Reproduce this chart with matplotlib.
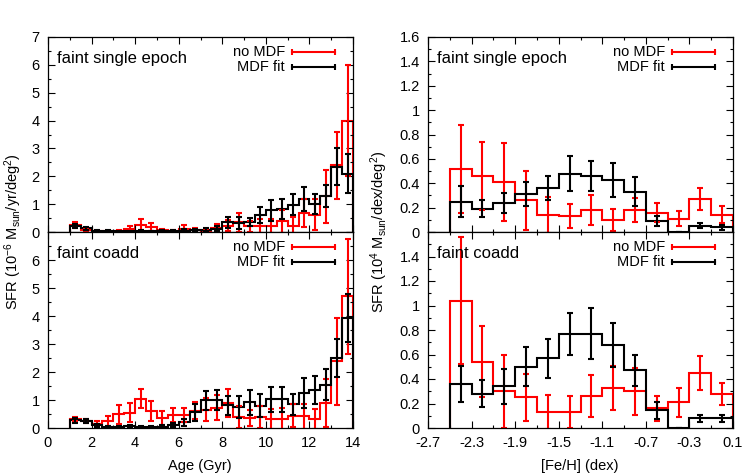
import numpy as np
import matplotlib
matplotlib.use('Agg')
import matplotlib.pyplot as plt
from matplotlib.ticker import FixedLocator, MultipleLocator

plt.rcParams['font.family'] = ['Liberation Sans', 'DejaVu Sans']
plt.rcParams['mathtext.fontset'] = 'custom'
plt.rcParams['mathtext.rm'] = 'Liberation Sans'
plt.rcParams['mathtext.it'] = 'Liberation Sans:italic'
plt.rcParams['mathtext.bf'] = 'Liberation Sans:bold'

# ---------------- data ----------------
age_edges = [1.0, 1.5, 2.0, 2.5, 3.0, 3.5, 4.0, 4.5, 5.0, 5.5, 6.0, 6.5, 7.0,
             7.5, 8.0, 8.5, 9.0, 9.5, 10.0, 10.5, 11.0, 11.5, 12.0, 12.5, 13.0,
             13.5, 14.0]
feh_edges = [-2.5, -2.3, -2.1, -1.9, -1.7, -1.5, -1.3, -1.1, -0.9, -0.7, -0.5,
             -0.3, -0.1, 0.1]

# faint single epoch, age
age_se_nomdf = [0.26, 0.08, 0.03, 0.03, 0.04, 0.10, 0.26, 0.18, 0.06, 0.04, 0.10,
                0.07, 0.04, 0.14, 0.23, 0.35, 0.20, 0.20, 0.20, 0.38, 0.20, 0.68,
                0.62, 1.28, 2.39, 4.00]
age_se_nomdf_err = [0.10, 0.05, 0.02, 0.02, 0.03, 0.10, 0.20, 0.15, 0.05, 0.04, 0.15,
                    0.08, 0.05, 0.15, 0.20, 0.35, 0.20, 0.25, 0.25, 0.40, 0.35, 0.50,
                    0.55, 0.95, 1.20, 2.00]
age_se_mdf = [0.20, 0.13, 0.04, 0.04, 0.03, 0.03, 0.04, 0.03, 0.04, 0.05, 0.05,
              0.06, 0.08, 0.12, 0.35, 0.33, 0.35, 0.62, 0.78, 0.82, 0.98, 1.18,
              1.00, 1.28, 2.35, 2.10]
age_se_mdf_err = [0.07, 0.05, 0.02, 0.02, 0.02, 0.02, 0.02, 0.02, 0.03, 0.03, 0.04,
                  0.04, 0.06, 0.10, 0.20, 0.22, 0.15, 0.28, 0.38, 0.36, 0.38, 0.42,
                  0.35, 0.40, 0.65, 0.70]

# faint coadd, age
age_co_nomdf = [0.33, 0.25, 0.15, 0.24, 0.49, 0.55, 1.05, 0.61, 0.36, 0.45, 0.45,
                0.62, 0.66, 0.72, 0.90, 0.39, 0.36, 0.39, 0.32, 0.32, 0.44, 0.42,
                0.32, 0.90, 2.38, 4.70]
age_co_nomdf_err = [0.08, 0.08, 0.10, 0.18, 0.33, 0.35, 0.34, 0.35, 0.26, 0.25, 0.25,
                    0.30, 0.40, 0.45, 0.50, 0.40, 0.30, 0.40, 0.35, 0.40, 0.40, 0.45,
                    0.35, 0.85, 1.55, 2.05]
age_co_mdf = [0.27, 0.25, 0.10, 0.04, 0.04, 0.06, 0.03, 0.03, 0.04, 0.10, 0.20,
              0.56, 0.99, 0.99, 0.81, 0.75, 0.92, 0.80, 1.02, 1.02, 0.84, 1.25,
              1.35, 1.55, 2.50, 3.93]
age_co_mdf_err = [0.08, 0.08, 0.06, 0.04, 0.04, 0.05, 0.04, 0.04, 0.05, 0.08, 0.12,
                  0.30, 0.33, 0.35, 0.33, 0.38, 0.45, 0.40, 0.45, 0.45, 0.38, 0.55,
                  0.50, 0.55, 0.69, 0.85]

# faint single epoch, [Fe/H]
feh_se_nomdf = [0.52, 0.46, 0.41, 0.26, 0.14, 0.13, 0.18, 0.10, 0.18, 0.16, 0.11,
                0.27, 0.14]
feh_se_nomdf_err = [0.36, 0.28, 0.32, 0.24, 0.15, 0.10, 0.12, 0.09, 0.10, 0.08, 0.06,
                    0.09, 0.07]
feh_se_mdf = [0.25, 0.19, 0.24, 0.31, 0.36, 0.48, 0.46, 0.43, 0.33, 0.09, 0.00,
              0.05, 0.04]
feh_se_mdf_err = [0.13, 0.07, 0.08, 0.10, 0.10, 0.14, 0.12, 0.14, 0.12, 0.04, 0.00,
                  0.02, 0.02]

# faint coadd, [Fe/H]
feh_co_nomdf = [1.04, 0.54, 0.30, 0.25, 0.13, 0.13, 0.26, 0.33, 0.30, 0.16, 0.21,
                0.45, 0.28]
feh_co_nomdf_err = [0.52, 0.29, 0.30, 0.19, 0.14, 0.13, 0.17, 0.18, 0.19, 0.10, 0.12,
                    0.14, 0.09]
feh_co_mdf = [0.36, 0.28, 0.34, 0.50, 0.57, 0.77, 0.77, 0.68, 0.47, 0.145, 0.00,
              0.08, 0.08]
feh_co_mdf_err = [0.15, 0.11, 0.14, 0.16, 0.16, 0.17, 0.21, 0.18, 0.13, 0.07, 0.00,
                  0.03, 0.03]

labels = ['no MDF', 'MDF fit']
colors = ['#ff0000', '#000000']

FS = 10.5

# ---------------- figure ----------------
W, H = 747, 476
fig = plt.figure(figsize=(W / 100, H / 100), dpi=100)

def px_axes(x0, x1, y0, y1):
    return fig.add_axes([x0 / W, 1 - y1 / H, (x1 - x0) / W, (y1 - y0) / H])

axLT = px_axes(48, 353, 37, 232)
axLB = px_axes(48, 353, 232, 428)
axRT = px_axes(428, 733, 37, 232)
axRB = px_axes(428, 733, 232, 428)


def draw(ax, edges, vals, errs, color):
    edges = np.asarray(edges)
    centers = 0.5 * (edges[:-1] + edges[1:])
    ax.stairs(vals, edges, baseline=0, color=color, lw=1.5)
    ax.errorbar(centers, vals, yerr=errs, fmt='none', ecolor=color,
                elinewidth=1.5, capsize=2.5, capthick=1.5)


def legend(ax):
    ys = [1 - 14.7 / 195, 1 - 30 / 195]
    for lab, col, y in zip(labels, colors, ys):
        ax.text(0.777, y, lab, transform=ax.transAxes, ha='right', va='center',
                fontsize=FS)
        ax.plot([0.80, 0.941], [y, y], color=col, lw=1.5,
                transform=ax.transAxes, clip_on=False)
        ax.plot([0.80, 0.941], [y, y], ls='none', marker='|', ms=5, mew=1.5,
                color=col, transform=ax.transAxes, clip_on=False)


def style(ax):
    ax.tick_params(which='both', direction='in', top=True, right=True,
                   labelsize=FS, width=0.8)
    ax.tick_params(which='major', length=5, pad=6)
    ax.tick_params(which='minor', length=2.5)
    for s in ax.spines.values():
        s.set_linewidth(0.9)


panels = [
    (axLT, age_edges, age_se_nomdf, age_se_nomdf_err, age_se_mdf, age_se_mdf_err,
     'faint single epoch'),
    (axLB, age_edges, age_co_nomdf, age_co_nomdf_err, age_co_mdf, age_co_mdf_err,
     'faint coadd'),
    (axRT, feh_edges, feh_se_nomdf, feh_se_nomdf_err, feh_se_mdf, feh_se_mdf_err,
     'faint single epoch'),
    (axRB, feh_edges, feh_co_nomdf, feh_co_nomdf_err, feh_co_mdf, feh_co_mdf_err,
     'faint coadd'),
]

for ax, edges, v1, e1, v2, e2, title in panels:
    draw(ax, edges, v1, e1, colors[0])
    draw(ax, edges, v2, e2, colors[1])
    legend(ax)
    ax.text(0.03, 1 - 21 / 195, title, transform=ax.transAxes, ha='left',
            va='center', fontsize=12)
    style(ax)

# left axes
for ax in (axLT, axLB):
    ax.set_xlim(0, 14)
    ax.set_ylim(0, 7)
    ax.xaxis.set_major_locator(MultipleLocator(2))
    ax.xaxis.set_minor_locator(MultipleLocator(1))
    ax.yaxis.set_major_locator(MultipleLocator(1))
    ax.yaxis.set_minor_locator(MultipleLocator(0.5))
axLT.set_yticks(range(0, 8))
axLT.set_yticklabels([str(i) for i in range(0, 8)])
axLB.set_yticks(range(0, 8))
axLB.set_yticklabels([str(i) for i in range(0, 7)] + [''])
axLT.tick_params(labelbottom=False)
axLB.set_xticks(range(0, 15, 2))
axLB.set_xticklabels([str(i) for i in range(0, 15, 2)])

# right axes
fe_ticks = [-2.7, -2.3, -1.9, -1.5, -1.1, -0.7, -0.3, 0.1]
fe_minor = [-2.5, -2.1, -1.7, -1.3, -0.9, -0.5, -0.1]
sfr_ticks = [0, 0.2, 0.4, 0.6, 0.8, 1.0, 1.2, 1.4, 1.6]
sfr_lbls = ['0', '0.2', '0.4', '0.6', '0.8', '1', '1.2', '1.4', '1.6']
for ax in (axRT, axRB):
    ax.set_xlim(-2.7, 0.1)
    ax.set_ylim(0, 1.6)
    ax.set_xticks(fe_ticks)
    ax.xaxis.set_minor_locator(FixedLocator(fe_minor))
    ax.set_yticks(sfr_ticks)
    ax.yaxis.set_minor_locator(MultipleLocator(0.1))
axRT.set_yticklabels(sfr_lbls)
axRB.set_yticklabels(sfr_lbls[:-1] + [''])
axRT.tick_params(labelbottom=False)
axRB.set_xticklabels(['-2.7', '-2.3', '-1.9', '-1.5', '-1.1', '-0.7', '-0.3', '0.1'])

# axis labels
fig.text(200 / W, 1 - 466 / H, 'Age (Gyr)', ha='center', va='center', fontsize=FS)
fig.text(580 / W, 1 - 466 / H, '[Fe/H] (dex)', ha='center', va='center', fontsize=FS)
fig.text(13 / W, 1 - 232 / H,
         r'SFR (10$^{\mathrm{-6}}$ M$_{\mathrm{sun}}$/yr/deg$^{\mathrm{2}}$)',
         rotation=90, ha='center', va='center', fontsize=FS)
fig.text(379 / W, 1 - 232 / H,
         r'SFR (10$^{\mathrm{4}}$ M$_{\mathrm{sun}}$/dex/deg$^{\mathrm{2}}$)',
         rotation=90, ha='center', va='center', fontsize=FS)

fig.savefig('out.png', dpi=100)
